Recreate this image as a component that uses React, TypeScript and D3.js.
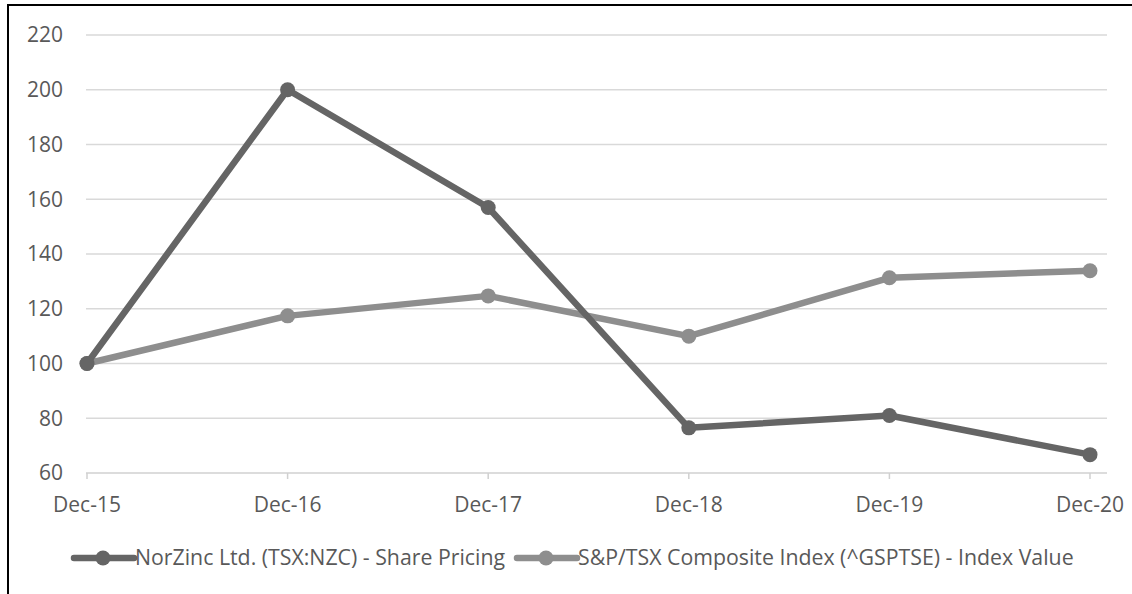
import React from "react";
import * as d3 from "d3";

const categories = ["Dec-15", "Dec-16", "Dec-17", "Dec-18", "Dec-19", "Dec-20"];
const norZinc = [100, 200, 157, 76.5, 81, 66.7];
const tsxIndex = [100, 117.4, 124.7, 110, 131.3, 133.9];
const yTicks = [60, 80, 100, 120, 140, 160, 180, 200, 220];
const seriesNames = [
  "NorZinc Ltd. (TSX:NZC) - Share Pricing",
  "S&P/TSX Composite Index (^GSPTSE) - Index Value",
];

const width = 1132;
const height = 594;
const font = "'Open Sans', sans-serif";
const darkColor = "#656565";
const lightColor = "#8e8e8e";
const textColor = "#595959";

const App: React.FC = () => {
  const x = d3.scalePoint<string>().domain(categories).range([87, 1090]);
  const y = d3.scaleLinear().domain([60, 220]).range([473, 35]);

  const line = d3
    .line<number>()
    .x((_, i) => x(categories[i]) ?? 0)
    .y((d) => y(d));

  const series = [
    { name: seriesNames[0], values: norZinc, color: darkColor },
    { name: seriesNames[1], values: tsxIndex, color: lightColor },
  ];

  const legendX = [74, 517];

  return (
    <svg
      width={width}
      height={height}
      style={{ position: "absolute", left: 0, top: 0, background: "#fff" }}
      fontFamily={font}
    >
      <rect x={0} y={0} width={width} height={height} fill="#fff" />
      {/* frame, only top and left visible */}
      <rect x={8} y={5} width={1200} height={700} fill="none" stroke="#000" strokeWidth={2} />

      {/* gridlines */}
      {yTicks.map((t) => (
        <g key={t}>
          <line
            x1={86}
            x2={1107}
            y1={y(t)}
            y2={y(t)}
            stroke={t === 60 ? "#d0d0d0" : "#d9d9d9"}
            strokeWidth={1.5}
          />
          <text
            x={63}
            y={y(t)}
            dy="0.35em"
            textAnchor="end"
            fontSize={21}
            fill={textColor}
          >
            {t}
          </text>
        </g>
      ))}

      {/* x ticks */}
      {categories.map((c) => (
        <g key={c}>
          <line
            x1={x(c)}
            x2={x(c)}
            y1={y(60)}
            y2={y(60) + 6}
            stroke="#d0d0d0"
            strokeWidth={1.5}
          />
          <text
            x={x(c)}
            y={505}
            dy="0.35em"
            textAnchor="middle"
            fontSize={21}
            fill={textColor}
          >
            {c}
          </text>
        </g>
      ))}

      {/* series: light first so dark sits on top */}
      {[series[1], series[0]].map((s) => (
        <g key={s.name}>
          <path
            d={line(s.values) ?? ""}
            fill="none"
            stroke={s.color}
            strokeWidth={6.5}
            strokeLinejoin="round"
          />
          {s.values.map((v, i) => (
            <circle key={i} cx={x(categories[i])} cy={y(v)} r={7.5} fill={s.color} />
          ))}
        </g>
      ))}

      {/* legend */}
      {series.map((s, i) => (
        <g key={s.name} transform={`translate(${legendX[i]},558)`}>
          <line x1={0} x2={60} y1={0} y2={0} stroke={s.color} strokeWidth={6.5} strokeLinecap="round" />
          <circle cx={29} cy={0} r={7.5} fill={s.color} />
          <text x={61} y={0} dy="0.35em" fontSize={21.3} fill={textColor}>
            {s.name}
          </text>
        </g>
      ))}
    </svg>
  );
};

export default App;
